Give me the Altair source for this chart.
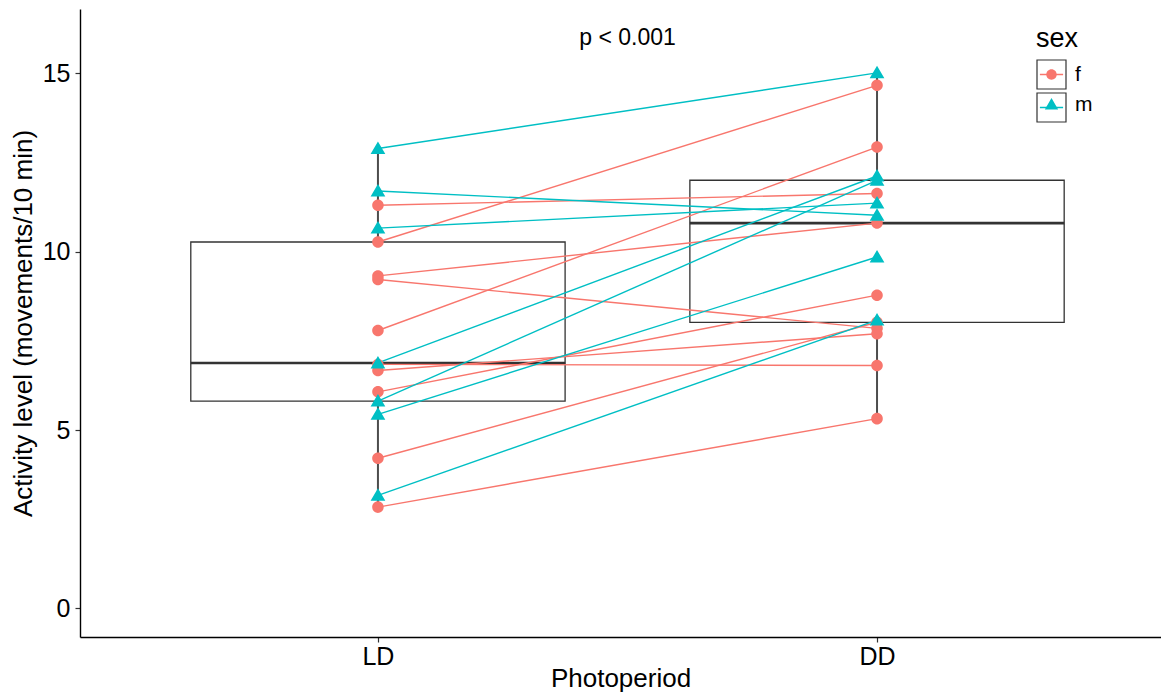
import altair as alt
import pandas as pd

# ---- data ----
periods = ["LD", "DD"]
sex_levels = ["f", "m"]
sex_colors = ["#F8766D", "#00BFC4"]

f_LD = [11.30, 10.27, 9.32, 9.22, 7.79, 6.84, 6.67, 6.07, 4.21, 2.84]
f_DD = [11.63, 14.66, 10.80, 7.85, 12.93, 6.81, 7.70, 8.78, 8.02, 5.32]
m_LD = [12.89, 11.70, 10.66, 6.88, 5.81, 5.44, 3.17]
m_DD = [15.01, 11.02, 11.36, 12.12, 12.00, 9.85, 8.08]

p_label = ["p < 0.001"]
p_pos = [1.5]
p_val = [16]

rows = []
for sex, lds, dds in (("f", f_LD, f_DD), ("m", m_LD, m_DD)):
    for i, (a, b) in enumerate(zip(lds, dds)):
        rows.append(dict(id=f"{sex}{i}", sex=sex, period=periods[0], x=1, value=a))
        rows.append(dict(id=f"{sex}{i}", sex=sex, period=periods[1], x=2, value=b))
df = pd.DataFrame(rows)
ptext = pd.DataFrame({"label": p_label, "x": p_pos, "y": p_val})

FONT = "Liberation Sans"
W, H = 1081, 628

xscale = alt.Scale(domain=[0.403, 2.569], nice=False, zero=False)
yscale = alt.Scale(domain=[-0.8, 16.8], nice=False, zero=False)
label_expr = "[" + ",".join(f"'{p}'" for p in periods) + "][datum.value - 1]"
xaxis = alt.Axis(values=[1, 2], labelExpr=label_expr, title="Photoperiod", grid=False)
yaxis = alt.Axis(values=[0, 5, 10, 15], title="Activity level (movements/10 min)", grid=False)


def X(f):
    return alt.X(f, scale=xscale, axis=xaxis)


def Y(f):
    return alt.Y(f, scale=yscale, axis=yaxis)


legend_common = dict(
    title="sex", orient="none", legendX=956, legendY=17, titleFont=FONT, titleFontSize=27,
    titleFontWeight="normal", titleColor="black", titlePadding=6, labelFont=FONT,
    labelFontSize=21, labelColor="black", labelOffset=8, rowPadding=-4, symbolSize=841,
)
hidden_text = dict(labelOpacity=0, titleOpacity=0)

# invisible zero-length pieces give every legend symbol the same +-1 extent
BOUND = "M0,-1L0,-1M0,1L0,1"
line_path = "M-0.8,0L0.8,0" + BOUND
circle_path = "M-0.36,0A0.36,0.36,0,1,1,0.36,0A0.36,0.36,0,1,1,-0.36,0Z" + BOUND
tri_path = "M0,-0.44L0.46,0.34L-0.46,0.34Z" + BOUND
square_path = "M-1,-1L1,-1L1,1L-1,1Z"

base = alt.Chart(df)

stats = base.transform_aggregate(
    q1="q1(value)", med="median(value)", q3="q3(value)",
    lo="min(value)", hi="max(value)", groupby=["x"]
).transform_calculate(xl="datum.x - 0.375", xr="datum.x + 0.375")

whisk = stats.mark_rule(color="#4d4d4d", strokeWidth=2).encode(
    x=X("x:Q"), y=Y("lo:Q"), y2="hi:Q")
boxes = stats.mark_rect(fill="white", stroke="#333333", strokeWidth=1.3).encode(
    x=X("xl:Q"), x2="xr:Q", y=Y("q1:Q"), y2="q3:Q")
medians = stats.mark_rule(color="#333333", strokeWidth=2.6).encode(
    x=X("xl:Q"), x2="xr:Q", y=Y("med:Q"))

# three overlaid legends (line keys, point keys, key frames); each has its own domain
# source so that Vega-Lite keeps them apart
lines = base.transform_calculate(sex_line="datum.sex").mark_line(strokeWidth=1.4).encode(
    x=X("x:Q"), y=Y("value:Q"), detail="id:N",
    stroke=alt.Stroke("sex_line:N", scale=alt.Scale(range=sex_colors),
                      legend=alt.Legend(**legend_common, **hidden_text,
                                        symbolType=line_path, symbolStrokeWidth=1.5,
                                        zindex=1)))

points = base.mark_point(filled=True, opacity=1, size=1024, strokeWidth=0).encode(
    x=X("x:Q"), y=Y("value:Q"),
    color=alt.Color("sex:N", scale=alt.Scale(range=sex_colors),
                    legend=alt.Legend(**legend_common, zindex=2)),
    shape=alt.Shape("sex:N", scale=alt.Scale(range=[circle_path, tri_path]),
                    legend=alt.Legend(**legend_common, zindex=2)),
)

frames = base.transform_filter("false").transform_calculate(sex_key="datum.sex").mark_point(
    filled=False, color="#333333", strokeWidth=1.2, opacity=1).encode(
    x=X("x:Q"), y=Y("value:Q"),
    fill=alt.Fill("sex_key:N", scale=alt.Scale(domain=sex_levels, range=["transparent", "transparent"]),
                  legend=alt.Legend(**legend_common, **hidden_text, symbolType=square_path,
                                    symbolStrokeColor="#333333", symbolStrokeWidth=1.2,
                                    zindex=3)),
)

ptxt = alt.Chart(ptext).mark_text(font=FONT, fontSize=23, color="black", baseline="middle").encode(
    x=X("x:Q"), y=Y("y:Q"), text="label:N")

chart = alt.layer(whisk, boxes, medians, lines, points, ptxt, frames).properties(
    width=W, height=H,
    autosize=alt.AutoSizeParams(type="none"),
    padding={"left": 72, "top": 1, "right": 0, "bottom": 55},
).configure_view(stroke=None).configure_axis(
    domainColor="black", domainWidth=1.4, tickColor="#333333", tickWidth=1.2, tickSize=5,
    labelFont=FONT, labelFontSize=25, labelColor="black",
    titleFont=FONT, titleFontSize=26, titleColor="black", titleFontWeight="normal",
).configure_axisX(labelPadding=2, titlePadding=-4).configure_axisY(labelPadding=5, titlePadding=6)

chart.save("out.html", embed_options={"renderer": "svg", "actions": False})
